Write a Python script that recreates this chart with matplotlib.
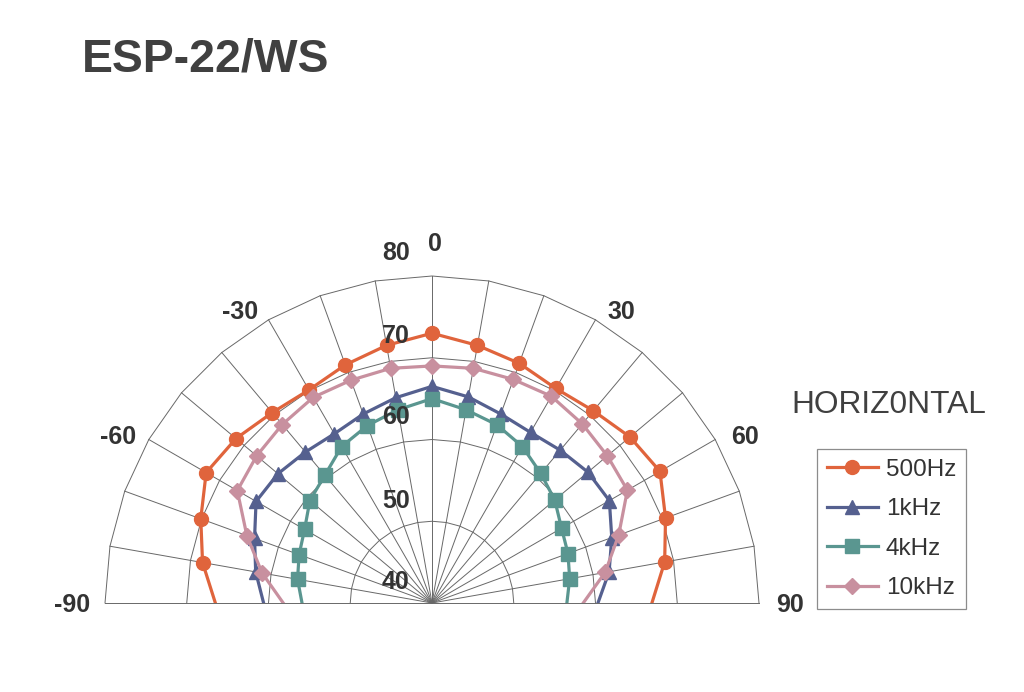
import numpy as np
import matplotlib
matplotlib.use("Agg")
import matplotlib.pyplot as plt
from matplotlib.patches import Rectangle

# ---- data ----
angles_deg = [-90, -80, -70, -60, -50, -40, -30, -20, -10, 0, 10, 20, 30, 40, 50, 60, 70, 80, 90]
spl_500hz = [66.5, 68.5, 70.1, 71.9, 71.3, 70.4, 70.1, 71.0, 72.0, 73.0, 72.0, 71.2, 70.3, 70.7, 71.6, 72.2, 70.4, 68.9, 66.9]
spl_1khz = [60.6, 61.9, 63.1, 64.85, 64.6, 64.1, 63.9, 64.6, 65.5, 66.5, 65.6, 64.6, 64.1, 64.4, 64.9, 65.05, 63.4, 62.0, 60.3]
spl_4khz = [55.9, 56.7, 57.3, 58.0, 59.5, 60.4, 62.1, 63.1, 64.0, 65.0, 64.0, 63.2, 62.1, 60.7, 59.6, 58.3, 57.7, 57.1, 56.5]
spl_10khz = [58.2, 61.1, 64.1, 67.5, 68.0, 68.5, 69.05, 69.0, 69.15, 69.0, 69.15, 69.1, 69.2, 68.6, 68.0, 67.6, 64.3, 61.5, 58.5]
series_labels = ["500Hz", "1kHz", "4kHz", "10kHz"]
radial_ticks = [40, 50, 60, 70, 80]
angle_ticks = [-90, -60, -30, 0, 30, 60, 90]
title = "ESP-22/WS"
subtitle = "HORIZ0NTAL"

colors = ["#E0643C", "#55608F", "#5A9690", "#C8909F"]
markers = ["o", "^", "s", "D"]
msizes = [10, 10, 10, 8]

W, H = 1024, 692
plt.rcParams['font.family'] = ['Liberation Sans', 'DejaVu Sans']
fig = plt.figure(figsize=(W / 100, H / 100), dpi=100)

cx, cy, R = 432, 603, 327
ax = fig.add_axes([(cx - R) / W, (H - cy - R) / H, 2 * R / W, 2 * R / H], projection='polar')
ax.set_theta_zero_location('N')
ax.set_theta_direction(-1)
ax.set_ylim(40, 80)
ax.grid(False)
ax.set_xticks([])
ax.set_yticks([])
for s in ax.spines.values():
    s.set_visible(False)
ax.patch.set_alpha(0)

# clip to the upper half (above the 90/-90 baseline)
clip_rect = Rectangle((0, (H - cy) / H), 1, cy / H, transform=fig.transFigure,
                      facecolor='none', edgecolor='none')

theta = np.deg2rad(angles_deg)
gridc = "#686868"
# polygon rings
for r in radial_ticks[1:]:
    ax.plot(theta, [r] * len(theta), color=gridc, lw=0.7, zorder=1, clip_on=False)
# spokes
for t in theta:
    ax.plot([t, t], [radial_ticks[0], radial_ticks[-1]], color=gridc, lw=0.7, zorder=1, clip_on=False)

handles = []
for vals, c, m, ms, lab in zip([spl_500hz, spl_1khz, spl_4khz, spl_10khz], colors, markers, msizes, series_labels):
    h, = ax.plot(theta, vals, color=c, lw=2.3, marker=m, markersize=ms,
                 markerfacecolor=c, markeredgecolor=c, markevery=slice(1, -1), label=lab, zorder=3)
    h.set_clip_path(clip_rect)
    handles.append(h)

def fx(x):
    return x / W

def fy(y):
    return 1 - y / H

txtc = "#333333"
fig.text(fx(82), fy(60), title, fontsize=33.4, fontweight='bold', color="#404040", va='center', ha='left')
fig.text(fx(889), fy(405), subtitle, fontsize=22.8, color="#404040", va='center', ha='center')

angle_pos = {-90: (72.5, 604.5), -60: (118, 437), -30: (240, 312), 0: (434.5, 244),
             30: (621, 312), 60: (745, 437), 90: (790, 604.5)}
for a in angle_ticks:
    x, y = angle_pos[a]
    fig.text(fx(x), fy(y), str(a), fontsize=18, fontweight='bold', color=txtc, ha='center', va='center')

rad_pos_y = {40: 582, 50: 501, 60: 417, 70: 336, 80: 252.5}
for r in radial_ticks:
    fig.text(fx(396), fy(rad_pos_y[r]), str(r), fontsize=18, fontweight='bold', color=txtc, ha='center', va='center')

leg = fig.legend(handles=handles, loc='upper left', bbox_to_anchor=(fx(817), fy(449)),
                 borderaxespad=0, frameon=True, fancybox=False, fontsize=17.5,
                 handlelength=2.1, handletextpad=0.33, labelspacing=0.72, borderpad=0.4,
                 edgecolor="#8c8c8c", framealpha=1, numpoints=1)
leg.get_frame().set_linewidth(0.9)
for t in leg.get_texts():
    t.set_color(txtc)

fig.savefig("out.png", dpi=100)
